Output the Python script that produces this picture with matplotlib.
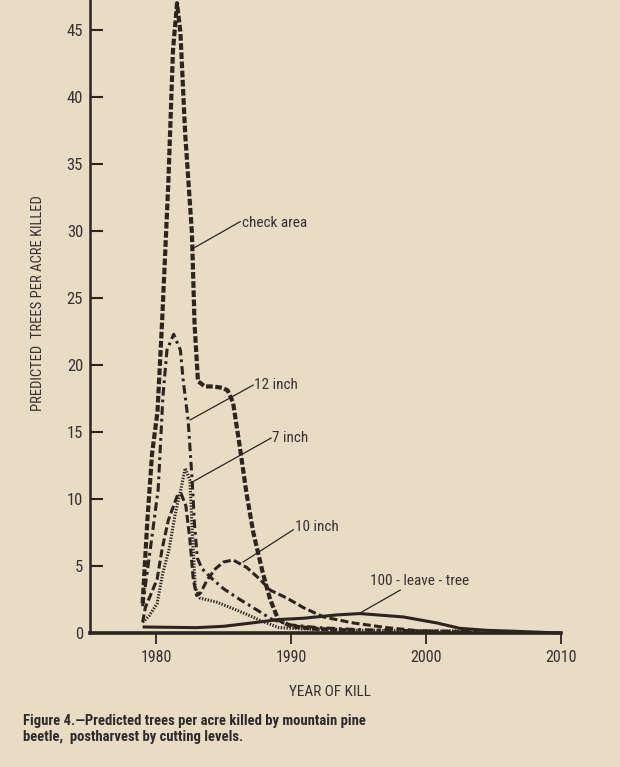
import matplotlib
matplotlib.use("Agg")
import matplotlib.pyplot as plt
from matplotlib import font_manager as fm

names = sorted({f.name for f in fm.fontManager.ttflist})
cond = [n for n in ['Liberation Sans Narrow', 'DejaVu Sans Condensed', 'Roboto Condensed', 'Open Sans Condensed', 'Roboto', 'Lato'] if n in names]
MAIN = cond[0] if cond else 'DejaVu Sans'
plt.rcParams['font.family'] = [MAIN, 'DejaVu Sans']

BG = '#e8dcc4'
INK = '#2e241e'

# ---- data ----
check_x = [1979.0, 1979.35, 1979.7, 1980.1, 1980.45, 1980.9, 1981.25, 1981.55, 1981.8, 1982.15,
           1982.65, 1982.85, 1983.1, 1983.6, 1984.2, 1984.9, 1985.3, 1985.7, 1986.2, 1986.7,
           1987.2, 1987.9, 1988.45, 1989.05, 1990.0, 1992.0, 1995.0]
check_y = [2.2, 8.4, 13.4, 16.5, 23.4, 33.5, 43.5, 47.0, 44.8, 37.3,
           29.9, 23.0, 18.8, 18.4, 18.4, 18.3, 18.1, 17.2, 13.9, 10.4,
           7.5, 4.5, 2.5, 1.0, 0.5, 0.3, 0.15]

in12_x = [1979.0, 1979.6, 1980.15, 1980.5, 1980.8, 1981.3, 1981.8, 1982.0, 1982.37, 1982.67,
          1982.85, 1983.05, 1983.4, 1984.2, 1985.0, 1986.2, 1987.5, 1988.6, 1990.0, 1992.0,
          1995.0, 2000.0, 2004.0]
in12_y = [2.0, 6.5, 10.7, 17.6, 21.1, 22.3, 21.1, 18.9, 15.9, 11.4,
          8.0, 5.6, 4.8, 4.0, 3.3, 2.5, 1.7, 1.0, 0.6, 0.4,
          0.25, 0.15, 0.1]

in7_x = [1979.0, 1979.5, 1980.07, 1980.5, 1980.95, 1981.4, 1981.85, 1982.15, 1982.5, 1982.67,
         1982.9, 1983.26, 1984.5, 1985.5, 1986.7, 1987.8, 1989.1, 1991.0, 1995.0, 2003.0]
in7_y = [0.8, 1.3, 2.2, 4.5, 6.2, 8.8, 10.8, 12.3, 11.4, 7.7,
         3.4, 2.6, 2.3, 1.9, 1.4, 0.9, 0.4, 0.3, 0.2, 0.15]

in10_x = [1979.0, 1979.2, 1980.07, 1980.45, 1980.9, 1981.55, 1981.85, 1982.2, 1982.5, 1982.75,
          1983.0, 1983.3, 1983.8, 1984.4, 1985.0, 1985.7, 1986.7, 1987.7, 1988.45, 1989.7,
          1990.9, 1992.4, 1994.6, 1997.1, 1999.6, 2004.0]
in10_y = [0.8, 1.9, 4.0, 6.3, 8.4, 10.2, 10.4, 9.5, 7.0, 4.0,
          2.8, 3.0, 4.0, 4.8, 5.3, 5.45, 4.9, 4.0, 3.2, 2.6,
          1.9, 1.2, 0.75, 0.4, 0.15, 0.05]

leave_x = [1979.0, 1983.0, 1985.0, 1987.5, 1989.0, 1990.9, 1993.4, 1995.1, 1998.3, 2000.8,
           2002.5, 2004.5, 2006.0, 2010.0]
leave_y = [0.45, 0.4, 0.5, 0.8, 1.0, 1.1, 1.35, 1.45, 1.2, 0.75,
           0.35, 0.2, 0.15, 0.0]

y_ticks = [0, 5, 10, 15, 20, 25, 30, 35, 40, 45]
x_ticks = [1980, 1990, 2000, 2010]

labels = ['check area', '12 inch', '7 inch', '10 inch', '100 - leave - tree']
label_pos = [(1986.37, 30.6), (1987.26, 18.5), (1988.6, 14.55), (1990.3, 7.9), (1995.86, 3.88)]
leader_from = [(1982.74, 28.7), (1982.52, 15.9), (1982.74, 11.3), (1986.45, 5.3), (1995.12, 1.5)]
leader_to = [(1986.23, 30.7), (1987.19, 18.5), (1988.52, 14.55), (1990.16, 7.7), (1998.09, 3.2)]

# ---- figure ----
fig = plt.figure(figsize=(6.2, 7.67), dpi=100, facecolor=BG)
ax = fig.add_axes([90/620, (767-633)/767, (561-90)/620, 633/767])
ax.set_facecolor(BG)
ax.set_xlim(1975.1, 2010.0)
ax.set_ylim(0, 47.24)

ax.plot(leave_x, leave_y, color=INK, lw=2.2, solid_capstyle='butt', clip_on=False)
ax.plot(in10_x, in10_y, color=INK, lw=2.2, dashes=(2.6, 1.1))
ax.plot(in7_x, in7_y, color=INK, lw=2.2, dashes=(0.45, 0.5))
ax.plot(in12_x, in12_y, color=INK, lw=2.2, dashes=(2.8, 1.3, 0.9, 1.3))
ax.plot(check_x, check_y, color=INK, lw=3.0, dashes=(1.6, 0.6))

for s in ['top', 'right']:
    ax.spines[s].set_visible(False)
ax.spines['left'].set_linewidth(1.8)
ax.spines['bottom'].set_linewidth(2.6)
ax.spines['left'].set_color(INK)
ax.spines['bottom'].set_color(INK)

ax.set_yticks(y_ticks)
ax.set_xticks(x_ticks)
ax.tick_params(axis='y', direction='in', length=9, width=1.5, colors=INK, labelsize=12, pad=5)
ax.tick_params(axis='x', direction='out', length=8, width=1.3, colors=INK, labelsize=11.5, pad=4)
for t in ax.get_yticklabels() + ax.get_xticklabels():
    t.set_color('#3a3030')

ax.set_xlabel('YEAR OF KILL', fontsize=11, color='#3a3030')
ax.xaxis.set_label_coords(0.5085, -0.082)
ax.set_ylabel('PREDICTED  TREES PER ACRE KILLED', fontsize=10.5, color='#3a3030')
ax.yaxis.set_label_coords(-0.0955, 0.521)

for lab, pos, a, b in zip(labels, label_pos, leader_from, leader_to):
    ax.plot([a[0], b[0]], [a[1], b[1]], color=INK, lw=0.9)
    ax.text(pos[0], pos[1], lab, fontsize=11, color='#3a3030', va='center', ha='left')

fig.text(23/620, 1 - 729/767,
         'Figure 4.\u2014Predicted trees per acre killed by mountain pine\nbeetle,  postharvest by cutting levels.',
         fontsize=10.5, fontweight='bold', color='#2f2a28', va='center', ha='left', linespacing=1.15)

fig.savefig('out.png', dpi=100, facecolor=BG)
